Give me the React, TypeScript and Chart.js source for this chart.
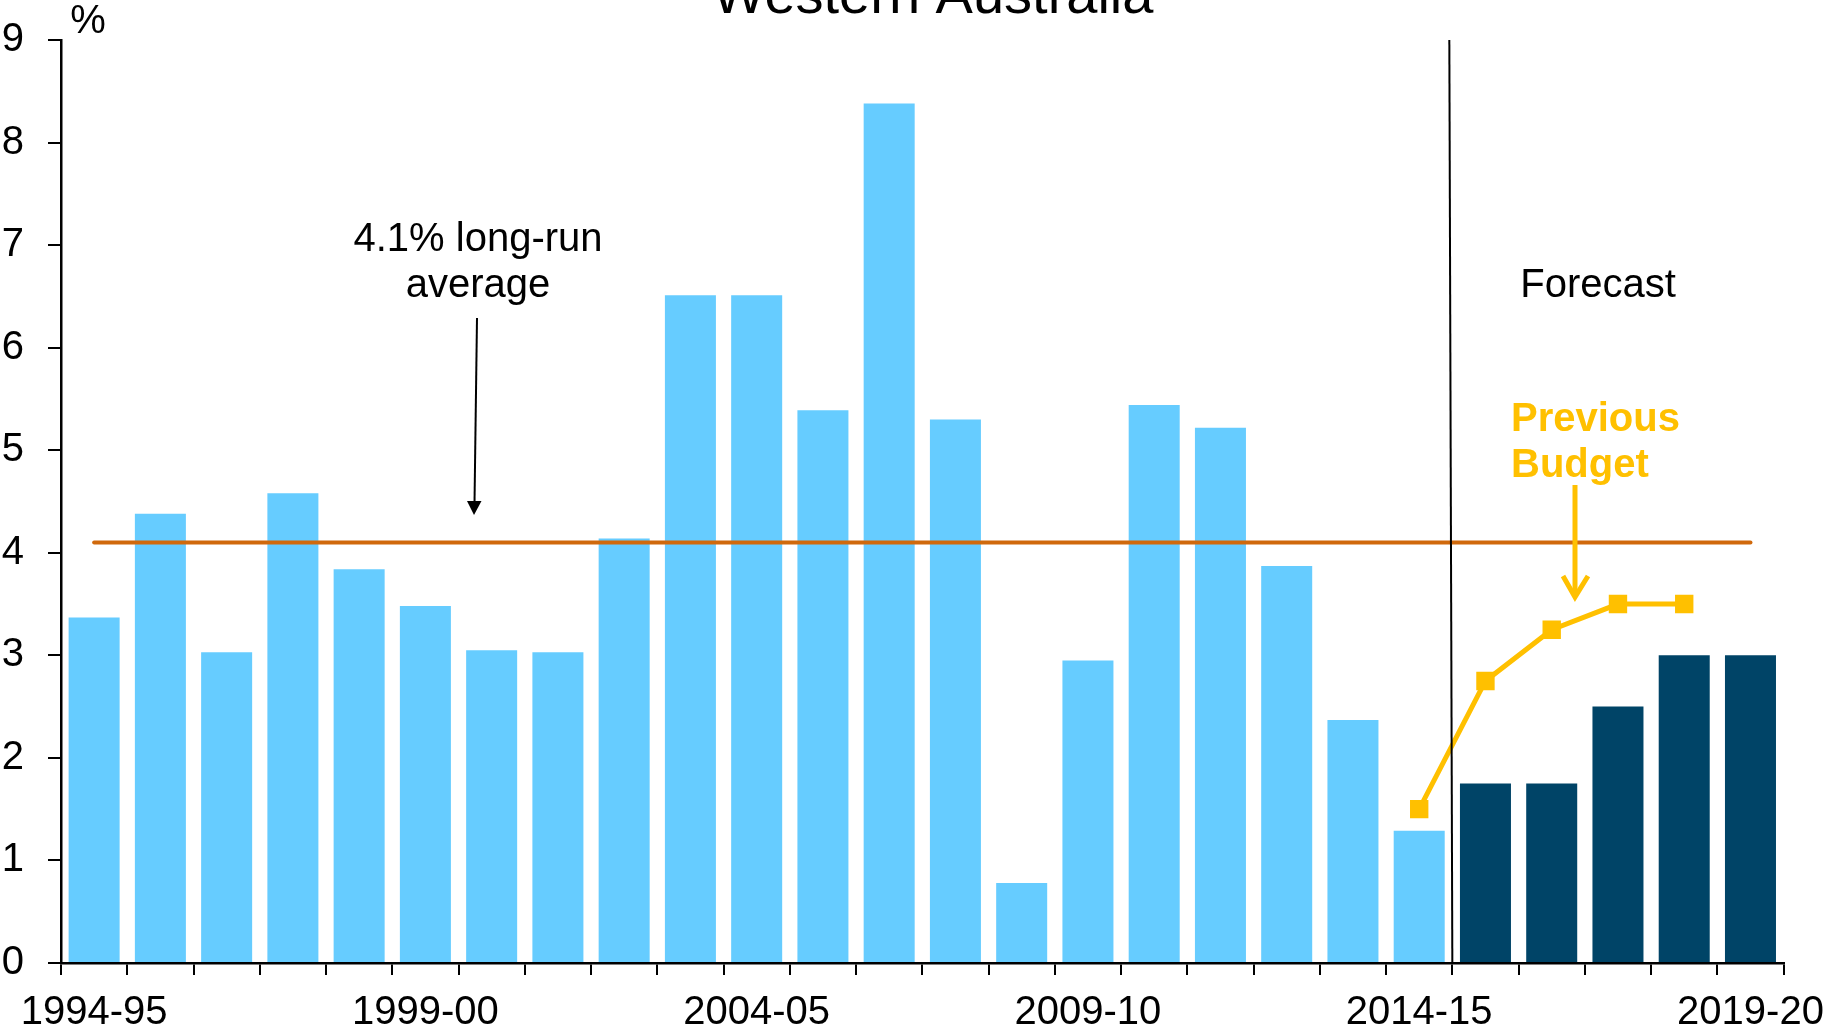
import { useEffect, useRef } from 'react';
import { Chart, registerables } from 'chart.js';

Chart.register(...registerables);

const W = 1829;
const H = 1033;
const FONT = "'Liberation Sans', Arial, sans-serif";

const categories = [
  '1994-95', '1995-96', '1996-97', '1997-98', '1998-99', '1999-00', '2000-01',
  '2001-02', '2002-03', '2003-04', '2004-05', '2005-06', '2006-07', '2007-08',
  '2008-09', '2009-10', '2010-11', '2011-12', '2012-13', '2013-14', '2014-15',
  '2015-16', '2016-17', '2017-18', '2018-19', '2019-20',
];

const growth = [
  3.37, 4.38, 3.03, 4.58, 3.84, 3.48, 3.05, 3.03, 4.14, 6.51, 6.51, 5.39, 8.38,
  5.3, 0.78, 2.95, 5.44, 5.22, 3.87, 2.37, 1.29, 1.75, 1.75, 2.5, 3.0, 3.0,
];

const previousBudget = [
  null, null, null, null, null, null, null, null, null, null, null, null, null,
  null, null, null, null, null, null, null, 1.5, 2.75, 3.25, 3.5, 3.5, null,
];

const longRunAverage = [
  4.1, 4.1, 4.1, 4.1, 4.1, 4.1, 4.1, 4.1, 4.1, 4.1, 4.1, 4.1, 4.1,
  4.1, 4.1, 4.1, 4.1, 4.1, 4.1, 4.1, 4.1, 4.1, 4.1, 4.1, 4.1, 4.1,
];

const forecastStart = '2015-16';
const labelEvery = 5;
const yMin = 0;
const yMax = 9;
const yStep = 1;

const ACTUAL_COLOR = '#66CCFF';
const FORECAST_COLOR = '#004467';
const AVG_COLOR = '#D0690C';
const PREV_COLOR = '#FFC000';

const annotationPlugin = {
  id: 'annotations',
  afterDatasetsDraw(chart: any) {
    const ctx = chart.ctx as CanvasRenderingContext2D;
    const xs = chart.scales.x;
    const area = chart.chartArea;
    const fi = categories.indexOf(forecastStart);
    const boundary = (xs.getPixelForValue(fi - 1) + xs.getPixelForValue(fi)) / 2;

    ctx.save();
    // forecast divider
    ctx.strokeStyle = '#000';
    ctx.lineWidth = 2;
    ctx.beginPath();
    ctx.moveTo(boundary - 3, area.top);
    ctx.lineTo(boundary, area.bottom);
    ctx.stroke();

    // texts
    ctx.fillStyle = '#000';
    ctx.textBaseline = 'alphabetic';
    ctx.textAlign = 'center';
    ctx.font = `56px ${FONT}`;
    ctx.fillText('Western Australia', 933, 13);
    ctx.font = `40px ${FONT}`;
    ctx.fillText('%', 88, 33);
    ctx.fillText('4.1% long-run', 478, 251);
    ctx.fillText('average', 478, 297);
    ctx.fillText('Forecast', 1598, 297);

    ctx.textAlign = 'left';
    ctx.fillStyle = PREV_COLOR;
    ctx.font = `bold 40px ${FONT}`;
    ctx.fillText('Previous', 1511, 431);
    ctx.fillText('Budget', 1511, 477);

    // long-run arrow
    ctx.strokeStyle = '#000';
    ctx.fillStyle = '#000';
    ctx.lineWidth = 2;
    ctx.beginPath();
    ctx.moveTo(477, 318);
    ctx.lineTo(474.5, 503);
    ctx.stroke();
    ctx.beginPath();
    ctx.moveTo(474, 515);
    ctx.lineTo(467, 501);
    ctx.lineTo(481.5, 501);
    ctx.closePath();
    ctx.fill();

    // previous budget arrow
    ctx.strokeStyle = PREV_COLOR;
    ctx.lineWidth = 5;
    ctx.beginPath();
    ctx.moveTo(1575, 485);
    ctx.lineTo(1575, 596);
    ctx.stroke();
    ctx.lineJoin = 'miter';
    ctx.beginPath();
    ctx.moveTo(1563, 576);
    ctx.lineTo(1575, 597);
    ctx.lineTo(1588, 576);
    ctx.stroke();
    ctx.restore();
  },
};

export default function App() {
  const ref = useRef<HTMLCanvasElement>(null);

  useEffect(() => {
    if (!ref.current) return;
    const fi = categories.indexOf(forecastStart);
    const chart = new Chart(ref.current, {
      type: 'bar',
      data: {
        labels: categories,
        datasets: [
          {
            type: 'line',
            label: 'Previous Budget',
            data: previousBudget,
            borderColor: PREV_COLOR,
            backgroundColor: PREV_COLOR,
            borderWidth: 5,
            pointStyle: 'rect',
            pointRadius: 13,
            pointBorderWidth: 0,
            pointBackgroundColor: PREV_COLOR,
            order: 0,
          } as any,
          {
            type: 'line',
            label: 'Long-run average',
            data: longRunAverage,
            borderColor: AVG_COLOR,
            borderWidth: 4,
            borderCapStyle: 'round',
            pointRadius: 0,
            order: 1,
          } as any,
          {
            type: 'bar',
            label: 'Growth',
            data: growth,
            backgroundColor: growth.map((_, i) => (i >= fi ? FORECAST_COLOR : ACTUAL_COLOR)),
            borderWidth: 0,
            barPercentage: 0.77,
            categoryPercentage: 1,
            order: 2,
          },
        ],
      },
      options: {
        responsive: false,
        animation: false,
        devicePixelRatio: 1,
        layout: { padding: { left: 0, top: 40, right: 45.4, bottom: 0 } },
        plugins: {
          legend: { display: false },
          title: { display: false },
          tooltip: { enabled: false },
        },
        scales: {
          x: {
            type: 'category',
            offset: true,
            grid: {
              display: true,
              offset: true,
              drawOnChartArea: false,
              drawTicks: true,
              tickLength: 12,
              color: '#000',
              lineWidth: 2,
            },
            border: { display: true, color: '#000', width: 2.5 },
            ticks: {
              autoSkip: false,
              maxRotation: 0,
              minRotation: 0,
              padding: 14,
              color: '#000',
              font: { family: FONT, size: 40 },
              callback: (_v: any, i: number) => (i % labelEvery === 0 ? categories[i] : ''),
            },
            afterFit: (s: any) => {
              s.height = H - 963;
              s.paddingLeft = 0;
              s.paddingRight = 0;
            },
          },
          y: {
            min: yMin,
            max: yMax,
            grid: {
              display: true,
              drawOnChartArea: false,
              drawTicks: true,
              tickLength: 13,
              color: '#000',
              lineWidth: 2,
            },
            border: { display: true, color: '#000', width: 2.5 },
            ticks: {
              stepSize: yStep,
              padding: 24,
              color: '#000',
              font: { family: FONT, size: 40 },
            },
            afterFit: (s: any) => {
              s.width = 61;
              s.paddingTop = 0;
              s.paddingBottom = 0;
            },
          },
        },
      },
      plugins: [annotationPlugin],
    });
    return () => chart.destroy();
  }, []);

  return (
    <div style={{ position: 'absolute', left: 0, top: 0, width: W, height: H, background: '#fff' }}>
      <canvas ref={ref} width={W} height={H} style={{ display: 'block', width: W, height: H }} />
    </div>
  );
}
